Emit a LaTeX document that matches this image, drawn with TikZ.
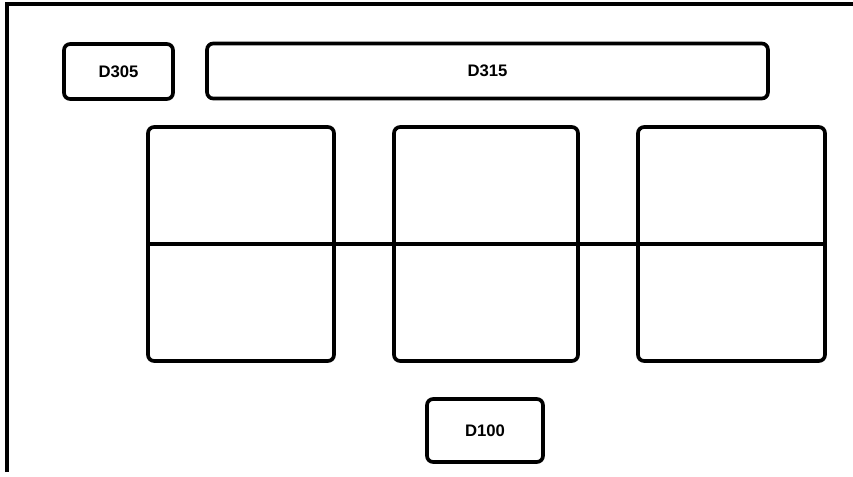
\documentclass[tikz,border=0pt]{standalone}
\usepackage{fontspec}
\setmainfont{Liberation Sans}
\usetikzlibrary{positioning}

\begin{document}
\begin{tikzpicture}[
  x=0.02cm,y=-0.02cm,
  tag/.style={draw,line width=2.1pt,rounded corners=3.5pt,align=center,font=\bfseries\fontsize{9.5}{11}\selectfont,inner sep=0pt},
  panel/.style={draw,line width=2.1pt,rounded corners=3.5pt,inner sep=0pt,minimum width=3.7cm,minimum height=4.68cm},
  edge/.style={line width=2.1pt}
]
\useasboundingbox (0,0) rectangle (853,477);
% frame
\coordinate (fb) at (7,472);
\coordinate (fc) at (7,4);
\coordinate (fr) at (853,4);
\draw[edge] (fb)--(fc)--(fr);
% top tags
\node[tag,minimum width=2.18cm,minimum height=1.1cm] (d305) at (118.5,71.5) {D305};
\node[tag,minimum width=11.22cm,minimum height=1.1cm] (d315) at (487.5,71) {D315};
% panels
\node[panel,minimum width=3.72cm] (p1) at (241,244) {};
\node[panel,minimum width=3.68cm] (p2) at (486,244) {};
\node[panel,minimum width=3.74cm] (p3) at (731.5,244) {};
\draw[edge] (p1.west)--(p3.east);
% bottom tag
\node[tag,minimum width=2.32cm,minimum height=1.26cm] (d100) at (485,430.5) {D100};
\end{tikzpicture}
\end{document}
